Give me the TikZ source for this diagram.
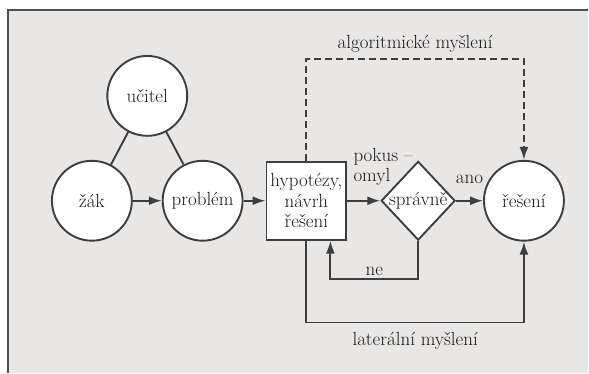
\documentclass[tikz,border=0pt]{standalone}
\usepackage{fontspec}
\usepackage{xcolor}
\definecolor{dgInk}{RGB}{62,62,62}
\definecolor{dgPaper}{RGB}{233,231,230}
\definecolor{dgFrame}{RGB}{80,80,80}
\usetikzlibrary{positioning,arrows.meta,calc,shapes.geometric}
\newcommand{\dgfont}{\fontsize{19}{20.5}\selectfont}
\tikzset{
  dg-circ/.style={circle,draw=dgInk,fill=white,line width=1.9pt,
    minimum size=80pt,inner sep=0pt,text=black!90,font=\dgfont},
  dg-box/.style={rectangle,draw=dgInk,fill=white,line width=1.9pt,
    minimum width=80pt,minimum height=78pt,inner sep=0pt,align=center,text=black!90,font=\dgfont},
  dg-dec/.style={diamond,draw=dgInk,fill=white,line width=1.9pt,
    minimum width=74pt,minimum height=79pt,inner sep=0pt,
    label={[font=\dgfont,text=black!90]center:správně}},
  dg-line/.style={dgInk,line width=1.9pt},
  dg-arrow/.style={-{Latex[length=13pt,width=9pt]},dgInk,line width=1.9pt},
  dg-dash/.style={-{Latex[length=13pt,width=9pt]},dgInk,line width=1.9pt,dash pattern=on 7pt off 4pt},
  dg-lbl/.style={font=\dgfont,text=black!90,inner sep=1pt},
}
\begin{document}
\begin{tikzpicture}[x=1pt,y=-1pt,node distance=29pt]
  % paper and frame
  \fill[dgPaper] (8,10) rectangle (589,373);
  \draw[dgFrame,line width=1.5pt] (8,373) -- (8,10) -- (589,10);
  \useasboundingbox (0,0) rectangle (589,373);

  % pupil, problem, teacher
  \node[dg-circ] (zak) at (92,201) {žák};
  \node[dg-circ,right=29pt of zak] (problem) {problém};
  \node[dg-circ] (ucitel) at ($(zak)!0.5!(problem)+(0,-105)$) {učitel};

  % solving
  \node[dg-box,right=22pt of problem] (hyp) {hypotézy,\\návrh\\řešení};
  \node[dg-dec,right=33pt of hyp] (check) {};
  \node[dg-circ,right=27pt of check] (reseni) {řešení};
  \node[dg-lbl,align=left,above right=14pt and 5pt of hyp.east] (trial) {pokus --\\omyl};

  % edges
  \draw[dg-line] (ucitel) -- (zak);
  \draw[dg-line] (ucitel) -- (problem);
  \draw[dg-arrow] (zak) -- (problem);
  \draw[dg-arrow] (problem) -- (hyp);
  \draw[dg-arrow] (hyp) -- (check);
  \draw[dg-arrow] (check) -- node[dg-lbl,above=15pt]{ano} (reseni);
  \draw[dg-arrow] (check.south) -- ++(0,38) -| node[dg-lbl,pos=0.25,above=1pt]{ne} ([xshift=24pt]hyp.south);
  \draw[dg-dash] (hyp.north) -- ++(0,-102) -| node[dg-lbl,pos=0.25,above=5pt]{algoritmické myšlení} (reseni.north);
  \draw[dg-arrow] (hyp.south) -- ++(0,82) -| node[dg-lbl,pos=0.25,below=8pt]{laterální myšlení} (reseni.south);
\end{tikzpicture}
\end{document}
